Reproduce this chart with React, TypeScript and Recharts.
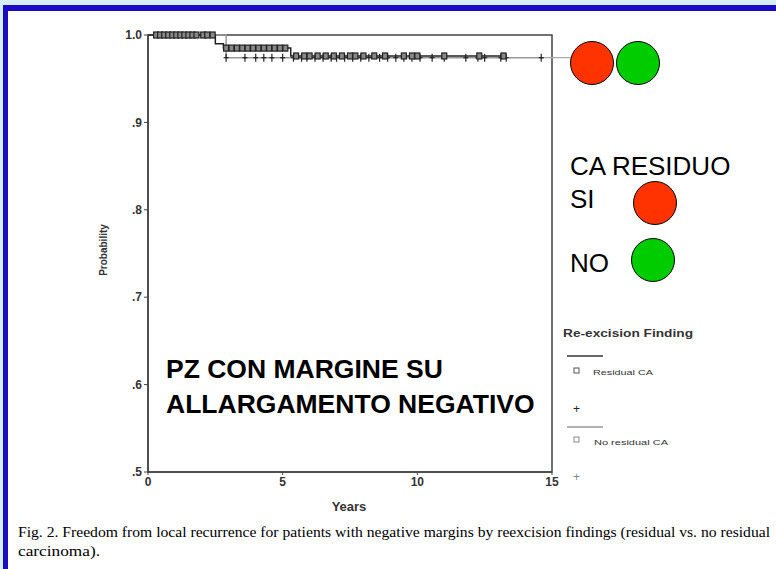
import React from 'react';
import { ComposedChart, Line, Scatter, XAxis, YAxis, ReferenceArea, ReferenceLine } from 'recharts';

// Kaplan-Meier steps (years, probability)
const residualSteps = [
  { t: 0, p: 1.0 },
  { t: 2.5, p: 0.99 },
  { t: 2.8, p: 0.985 },
  { t: 5.3, p: 0.976 },
  { t: 13.3, p: 0.976 },
];
const noResidualSteps = [
  { t: 0, p: 1.0 },
  { t: 2.9, p: 0.974 },
  { t: 14.7, p: 0.974 },
];

// censored cases
const residualCensorTop = [0.3, 0.45, 0.6, 0.75, 0.9, 1.05, 1.2, 1.35, 1.5, 1.65, 1.8, 2.05, 2.2, 2.4];
const residualCensorMid = [2.9, 3.1, 3.3, 3.5, 3.7, 3.9, 4.1, 4.3, 4.5, 4.7, 4.9, 5.1];
const residualCensorLow = [5.5, 5.8, 6.0, 6.3, 6.6, 6.9, 7.2, 7.5, 7.7, 8.0, 8.4, 8.8, 9.5, 9.8, 10.0, 11.0, 12.3, 13.2];
const noResidualCensor = [2.9, 3.6, 4.0, 4.3, 4.6, 5.0, 5.4, 5.7, 5.9, 6.2, 6.5, 6.8, 7.0, 7.3, 7.6, 7.9, 8.2, 8.6, 8.9, 9.2, 9.5, 9.8, 10.1, 10.55, 11.0, 11.8, 12.25, 12.5, 13.1, 13.3, 14.6];

const xTicks = [0, 5, 10, 15];
const yTicks = [0.5, 0.6, 0.7, 0.8, 0.9, 1.0];

const squares = [
  ...residualCensorTop.map((t) => ({ t, p: 1.0 })),
  ...residualCensorMid.map((t) => ({ t, p: 0.985 })),
  ...residualCensorLow.map((t) => ({ t, p: 0.976 })),
];
const pluses = noResidualCensor.map((t) => ({ t, p: 0.974 }));

const Square = (props: any) => (
  <rect x={props.cx - 2.5} y={props.cy - 3} width={5} height={6} fill="#888" stroke="#222" strokeWidth={1.2} />
);
const Plus = (props: any) => (
  <g stroke="#222" strokeWidth={1.2}>
    <line x1={props.cx} x2={props.cx} y1={props.cy - 4} y2={props.cy + 4} />
    <line x1={props.cx - 2.5} x2={props.cx + 2.5} y1={props.cy} y2={props.cy} />
  </g>
);

const fmtY = (v: number) => (v === 1 ? '1.0' : '.' + Math.round(v * 10));

const Dot = ({ x, y, fill }: { x: number; y: number; fill: string }) => (
  <div
    style={{
      position: 'absolute', left: x - 22, top: y - 22, width: 44, height: 44,
      borderRadius: '50%', background: fill, border: '1.5px solid #000', boxSizing: 'border-box',
    }}
  />
);

const App: React.FC = () => {
  return (
    <div style={{ position: 'fixed', left: 0, top: 0, width: 776, height: 569, background: '#d5eef3', overflow: 'hidden', fontFamily: 'Arial, "Liberation Sans", sans-serif' }}>
      <div style={{ position: 'absolute', left: 3, top: 5, width: 800, height: 600, background: '#fff', borderTop: '6px solid #1a0ac8', borderLeft: '5px solid #1a0ac8' }} />

      <div style={{ position: 'absolute', left: 0, top: 0 }}>
        <ComposedChart width={600} height={530} margin={{ top: 35, right: 48, bottom: 28, left: 108 }}>
          <XAxis
            dataKey="t" type="number" domain={[0, 15]} ticks={xTicks}
            axisLine={{ stroke: '#444', strokeWidth: 1.5 }} tickLine={{ stroke: '#444' }} tickSize={3}
            tick={{ fontSize: 12, fontWeight: 'bold', fill: '#333' }} height={30}
          />
          <YAxis
            type="number" domain={[0.5, 1]} ticks={yTicks} tickFormatter={fmtY} width={40}
            axisLine={{ stroke: '#444', strokeWidth: 1.5 }} tickLine={{ stroke: '#444' }} tickSize={4}
            tick={{ fontSize: 12, fontWeight: 'bold', fill: '#333' }}
          />
          <ReferenceArea x1={0} x2={15} y1={0.5} y2={1} fill="none" stroke="#444" strokeWidth={1.5} />
          <ReferenceLine segment={[{ x: 14.7, y: 0.974 }, { x: 16, y: 0.974 }]} stroke="#aaa" strokeWidth={1.2} ifOverflow="visible" />
          <Line data={noResidualSteps} dataKey="p" type="stepAfter" stroke="#999" strokeWidth={1.5} dot={false} isAnimationActive={false} />
          <Line data={residualSteps} dataKey="p" type="stepAfter" stroke="#222" strokeWidth={1.5} dot={false} isAnimationActive={false} />
          <Scatter data={pluses} dataKey="p" shape={Plus} isAnimationActive={false} />
          <Scatter data={squares} dataKey="p" shape={Square} isAnimationActive={false} />
        </ComposedChart>
      </div>

      <div style={{ position: 'absolute', left: 103, top: 250, transform: 'translate(-50%, -50%) rotate(-90deg)', fontSize: 10, fontWeight: 'bold', color: '#333', whiteSpace: 'nowrap' }}>
        Probability
      </div>
      <div style={{ position: 'absolute', left: 349, top: 506, transform: 'translate(-50%, -50%)', fontSize: 13, fontWeight: 'bold', color: '#333' }}>
        Years
      </div>

      <div style={{ position: 'absolute', left: 166, top: 352, fontSize: 26.5, fontWeight: 'bold', lineHeight: '35px', color: '#000', whiteSpace: 'nowrap' }}>
        PZ CON MARGINE SU<br />ALLARGAMENTO NEGATIVO
      </div>

      <Dot x={592} y={63} fill="#ff3300" />
      <Dot x={638} y={63} fill="#00cc00" />

      <div style={{ position: 'absolute', left: 570, top: 150, fontSize: 26, lineHeight: '33px', color: '#000', whiteSpace: 'nowrap' }}>
        CA RESIDUO<br />SI
      </div>
      <Dot x={655} y={203} fill="#ff3300" />
      <div style={{ position: 'absolute', left: 570, top: 248, fontSize: 26, color: '#000' }}>NO</div>
      <Dot x={653} y={260} fill="#00cc00" />

      <svg width={776} height={569} style={{ position: 'absolute', left: 0, top: 0 }}>
        <text x={563} y={337} fontSize={11} fontWeight="bold" fill="#333" textLength={130} lengthAdjust="spacingAndGlyphs">Re-excision Finding</text>
        <line x1={567} x2={603} y1={356} y2={356} stroke="#333" strokeWidth={1.3} />
        <rect x={574} y={368} width={5} height={5} fill="none" stroke="#555" />
        <text x={593} y={375} fontSize={8} fill="#333" textLength={60} lengthAdjust="spacingAndGlyphs">Residual CA</text>
        <text x={573} y={413} fontSize={12} fill="#222">+</text>
        <line x1={567} x2={603} y1={427} y2={427} stroke="#999" strokeWidth={1.3} />
        <rect x={574} y={437} width={5} height={5} fill="none" stroke="#888" />
        <text x={594} y={445} fontSize={8} fill="#333" textLength={74} lengthAdjust="spacingAndGlyphs">No residual CA</text>
        <text x={573} y={481} fontSize={12} fill="#888">+</text>

        <text x={18} y={537} fontSize={14} fontFamily="'Liberation Serif', 'Times New Roman', serif" fill="#000" textLength={752} lengthAdjust="spacingAndGlyphs">
          Fig. 2. Freedom from local recurrence for patients with negative margins by reexcision findings (residual vs. no residual
        </text>
        <text x={18} y={556} fontSize={14} fontFamily="'Liberation Serif', 'Times New Roman', serif" fill="#000" textLength={82} lengthAdjust="spacingAndGlyphs">
          carcinoma).
        </text>
      </svg>
    </div>
  );
};

export default App;
